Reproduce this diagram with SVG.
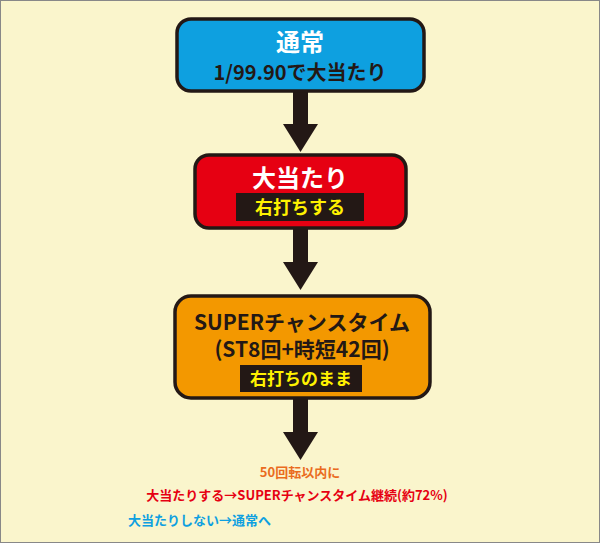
<svg xmlns="http://www.w3.org/2000/svg" width="600" height="543" viewBox="0 0 600 543">
<style>
.box{stroke:#231815;stroke-width:3.5}
.t{font-family:"Noto Sans CJK JP","Noto Sans",sans-serif;font-weight:bold;text-anchor:middle}
.arr{fill:#231815}
</style>
<rect x="0.5" y="0.5" width="599" height="542" fill="#faf5cc" stroke="#888" stroke-width="1"/>
<g id="connectors">
<polygon class="arr" points="293,91 308,91 308,124 318,124 300.5,152 283,124 293,124"/>
<polygon class="arr" points="293,228 308,228 308,262 318,262 300.5,290 283,262 293,262"/>
<polygon class="arr" points="293,398 308,398 308,432 318,432 300.5,460 283,432 293,432"/>
</g>
<g id="normal">
<rect class="box" x="177" y="19" width="247" height="72" rx="14" fill="#0ea0e0"/>
<text class="t" x="300" y="51" font-size="24" fill="#fff">通常</text>
<text class="t" x="300" y="80" font-size="20" fill="#231815">1/99.90で大当たり</text>
</g>
<g id="jackpot">
<rect class="box" x="195" y="155" width="211" height="73" rx="14" fill="#e60012"/>
<text class="t" x="300" y="187" font-size="24" fill="#fff">大当たり</text>
<rect x="236" y="193" width="128" height="28" fill="#231815"/>
<text class="t" x="300" y="214" font-size="18" fill="#fff100">右打ちする</text>
</g>
<g id="st">
<rect class="box" x="175" y="296" width="255" height="102" rx="16" fill="#f39800"/>
<text class="t" x="302" y="330" font-size="21" fill="#231815">SUPERチャンスタイム</text>
<text class="t" x="302" y="357" font-size="21" fill="#231815">(ST8回+時短42回)</text>
<rect x="240" y="365" width="122" height="27" fill="#231815"/>
<text class="t" x="301" y="385" font-size="17" fill="#fff100">右打ちのまま</text>
</g>
<g id="notes">
<text class="t" x="300" y="477" font-size="13" fill="#ea6c1e">50回転以内に</text>
<text class="t" x="297" y="500" font-size="13" fill="#e60012">大当たりする→SUPERチャンスタイム継続(約72%)</text>
<text x="128" y="525" font-size="13" class="t" style="text-anchor:start" fill="#0ea0e0">大当たりしない→通常へ</text>
</g>
</svg>
